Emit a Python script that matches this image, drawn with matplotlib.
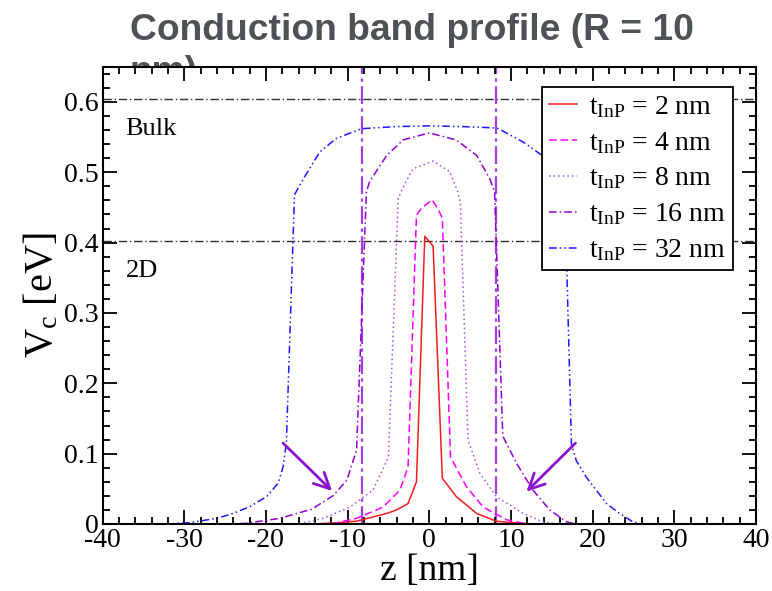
import matplotlib
matplotlib.use("Agg")
import matplotlib.pyplot as plt
from matplotlib.ticker import MultipleLocator

plt.rcParams['font.family'] = ['Liberation Serif', 'DejaVu Serif']
plt.rcParams['mathtext.fontset'] = 'custom'
plt.rcParams['mathtext.rm'] = 'Liberation Serif'
plt.rcParams['mathtext.it'] = 'Liberation Serif:italic'
plt.rcParams['axes.unicode_minus'] = False

# ---- data ----
z_2nm = [-40, -14, -11, -8.9, -5.2, -4, -2.6, -1.57, -0.55, 0.47, 1.6, 3.3, 5.8, 8.2, 11, 13, 40]
v_2nm = [0, 0, 0.002, 0.004, 0.015, 0.02, 0.029, 0.06, 0.409, 0.395, 0.065, 0.039, 0.015, 0.004, 0.001, 0, 0]

z_4nm = [-40, -12, -8.9, -5.65, -3.6, -2.6, -1.57, -0.95, 0.35, 1.1, 1.6, 2.6, 4.55, 6.6, 9.45, 12, 40]
v_4nm = [0, 0, 0.008, 0.024, 0.048, 0.081, 0.439, 0.449, 0.461, 0.447, 0.435, 0.095, 0.053, 0.024, 0.006, 0, 0]

z_8nm = [-40, -16, -13, -9.7, -6.9, -5.0, -3.8, -3.2, -2.0, 0.47, 2.5, 3.5, 3.8, 4.75, 6.2, 8.2, 11.5, 13.9, 16, 40]
v_8nm = [0, 0, 0.008, 0.024, 0.048, 0.095, 0.463, 0.479, 0.505, 0.516, 0.501, 0.472, 0.458, 0.119, 0.072, 0.039, 0.015, 0.003, 0, 0]

z_16nm = [-40, -24, -22.4, -18.3, -14.4, -11.8, -10.1, -8.9, -7.7, -7.3, -5.2, -3.2, 0, 3.3, 5.8, 7.4, 8.0, 9.0, 10.7, 12.7, 14.75, 16.8, 18, 40]
v_16nm = [0, 0, 0.001, 0.008, 0.021, 0.04, 0.062, 0.105, 0.472, 0.487, 0.524, 0.546, 0.556, 0.546, 0.524, 0.491, 0.472, 0.125, 0.086, 0.048, 0.02, 0.003, 0, 0]

z_32nm = [-40, -32, -29.3, -26, -24, -22, -19.9, -18.5, -17.9, -17.5, -16.5, -15.4, -13.4, -11.4, -8.3, -4, 0, 4, 8.3, 11.5, 14.3, 15.6, 16.6, 17.4, 18.0, 19.2, 21.7, 23.3, 24.9, 26, 40]
v_32nm = [0, 0, 0.002, 0.008, 0.015, 0.0245, 0.039, 0.058, 0.081, 0.114, 0.468, 0.491, 0.529, 0.548, 0.562, 0.565, 0.566, 0.565, 0.563, 0.543, 0.52, 0.49, 0.468, 0.114, 0.09, 0.067, 0.029, 0.015, 0.003, 0, 0]

labels = [r"t$_{\rm InP}$ = 2 nm", r"t$_{\rm InP}$ = 4 nm", r"t$_{\rm InP}$ = 8 nm",
          r"t$_{\rm InP}$ = 16 nm", r"t$_{\rm InP}$ = 32 nm"]

title_lines = ["Conduction band profile (R = 10", "nm)"]

bulk_level = 0.604
level_2d = 0.402
dot_z = [-8.2, 8.2]
arrow_tails = [(-17.9, 0.115), (17.9, 0.115)]
arrow_heads = [(-11.9, 0.047), (11.9, 0.046)]

# ---- figure ----
fig = plt.figure(figsize=(7.72, 5.91), dpi=100)
ax = fig.add_axes([0.1328, 0.1134, 0.8465, 0.7736])
ax.set_facecolor('white')

for txt, yb in zip(title_lines, (0.9324, 0.8613)):
    fig.text(0.168, yb, txt, family=['Liberation Sans'], fontweight='bold',
             fontsize=26.8, color='#4d5255', va='baseline', ha='left', zorder=-5)

ax.plot(z_2nm, v_2nm, color='#f41c1c', lw=1.1, ls='-', label=labels[0])
ax.plot(z_4nm, v_4nm, color='#ff00ff', lw=1.1, ls=(0, (5, 2.5)), label=labels[1])
ax.plot(z_8nm, v_8nm, color='#9955ee', lw=1.1, ls=(0, (1, 2)), label=labels[2])
ax.plot(z_16nm, v_16nm, color='#9400d3', lw=1.1, ls=(0, (5, 2, 1, 2)), label=labels[3])
ax.plot(z_32nm, v_32nm, color='#1a1aff', lw=1.1, ls=(0, (5, 2, 1, 2, 1, 2)), label=labels[4])

for lev in (bulk_level, level_2d):
    ax.axhline(lev, color='#303030', lw=1.0, ls=(0, (6, 2, 1, 2)), zorder=1)
for zz in dot_z:
    ax.axvline(zz, color='#a040e0', lw=1.6, ls=(0, (8, 2, 1.5, 2)), zorder=1)

for (tx, ty), (hx, hy) in zip(arrow_tails, arrow_heads):
    ax.annotate("", xy=(hx, hy), xytext=(tx, ty),
                arrowprops=dict(arrowstyle='->', color='#8a14d0', lw=2.0,
                                mutation_scale=28, shrinkA=0, shrinkB=0))

ax.text(-37.2, 0.562, "Bulk", fontsize=19, va='center', ha='left')
ax.text(-37.2, 0.360, "2D", fontsize=19, va='center', ha='left')

ax.set_xlim(-40, 40)
ax.set_ylim(0, 0.65)
ax.xaxis.set_major_locator(MultipleLocator(10))
ax.xaxis.set_minor_locator(MultipleLocator(2))
ax.yaxis.set_major_locator(MultipleLocator(0.1))
ax.yaxis.set_minor_locator(MultipleLocator(0.02))
ax.yaxis.set_major_formatter(plt.FuncFormatter(lambda v, p: "0" if abs(v) < 1e-9 else f"{v:.1f}"))
ax.tick_params(which='both', direction='in', top=True, right=True, labelsize=20, width=1.3, pad=3)
ax.tick_params(which='major', length=10)
ax.tick_params(which='minor', length=5)
for s in ax.spines.values():
    s.set_linewidth(1.5)

ax.set_xlabel("z [nm]", fontsize=27, labelpad=0)
ax.set_ylabel(r"V$_{\rm c}$ [eV]", fontsize=29, labelpad=2)

leg = ax.legend(loc='upper right', bbox_to_anchor=(0.965, 0.956), fontsize=20,
                frameon=True, fancybox=False, edgecolor='black', framealpha=1,
                handlelength=1.0, handletextpad=0.45, labelspacing=0.36,
                borderpad=0.25, borderaxespad=0)
leg.get_frame().set_linewidth(1.3)

fig.savefig("out.png", dpi=100)
